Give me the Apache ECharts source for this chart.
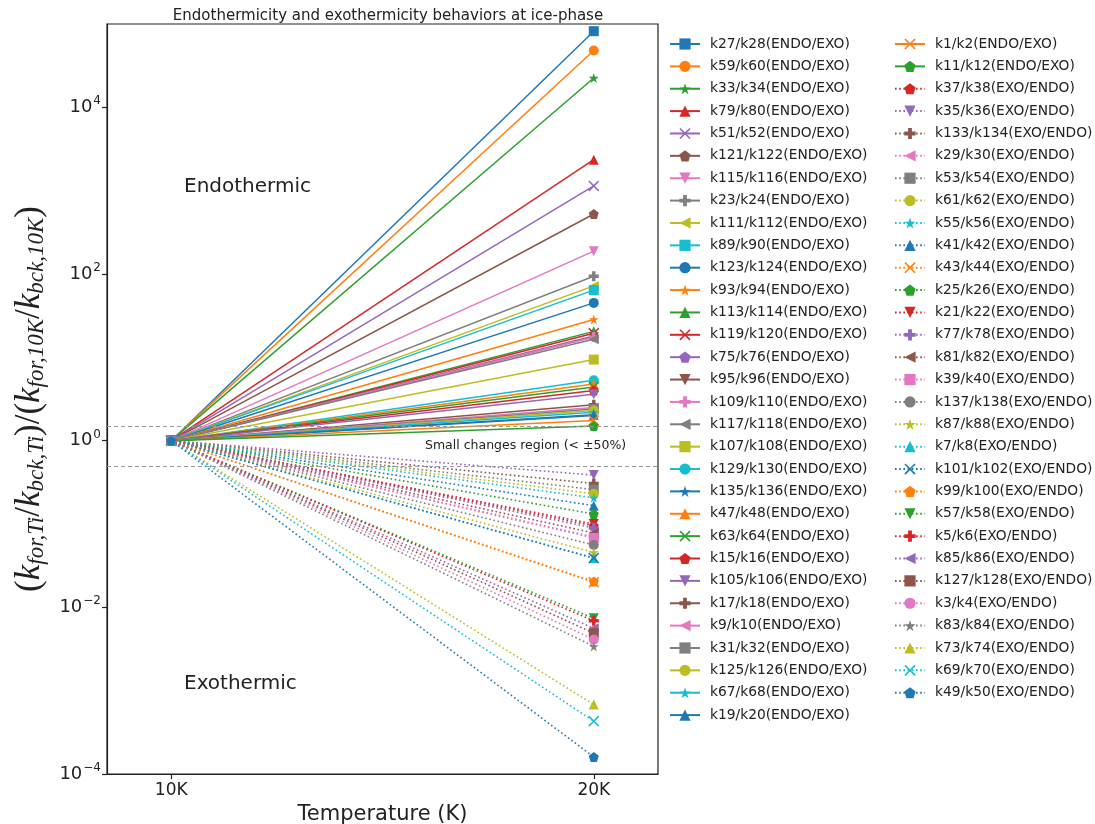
<!DOCTYPE html>
<html>
<head>
<meta charset="utf-8">
<script src="https://cdn.jsdelivr.net/npm/echarts@6/dist/echarts.min.js"></script>
<style>
  html, body { margin: 0; padding: 0; background: #fff; }
  #chart { width: 1095px; height: 824px; }
</style>
</head>
<body>
<div id="chart"></div>
<script>
// Temperatures (K) at which the rate-constant ratios are evaluated
const temperatures = [10, 20];
const xTickLabels = ['10K', '20K'];
const yTickValues = [1e-4, 1e-2, 1, 1e2, 1e4];

// Reaction pairs that become faster going forward when warmed (ENDO/EXO)
const endoNames = [
  'k27/k28(ENDO/EXO)', 'k59/k60(ENDO/EXO)', 'k33/k34(ENDO/EXO)', 'k79/k80(ENDO/EXO)',
  'k51/k52(ENDO/EXO)', 'k121/k122(ENDO/EXO)', 'k115/k116(ENDO/EXO)', 'k23/k24(ENDO/EXO)',
  'k111/k112(ENDO/EXO)', 'k89/k90(ENDO/EXO)', 'k123/k124(ENDO/EXO)', 'k93/k94(ENDO/EXO)',
  'k113/k114(ENDO/EXO)', 'k119/k120(ENDO/EXO)', 'k75/k76(ENDO/EXO)', 'k95/k96(ENDO/EXO)',
  'k109/k110(ENDO/EXO)', 'k117/k118(ENDO/EXO)', 'k107/k108(ENDO/EXO)', 'k129/k130(ENDO/EXO)',
  'k135/k136(ENDO/EXO)', 'k47/k48(ENDO/EXO)', 'k63/k64(ENDO/EXO)', 'k15/k16(ENDO/EXO)',
  'k105/k106(ENDO/EXO)', 'k17/k18(ENDO/EXO)', 'k9/k10(ENDO/EXO)', 'k31/k32(ENDO/EXO)',
  'k125/k126(ENDO/EXO)', 'k67/k68(ENDO/EXO)', 'k19/k20(ENDO/EXO)', 'k1/k2(ENDO/EXO)',
  'k11/k12(ENDO/EXO)'
];
// Ratio at 20K (normalised to 1 at 10K)
const endoValues20K = [
  82000, 48000, 22500, 2350,
  1140, 525, 188, 94,
  72, 64, 45, 28.5,
  20.5, 19.5, 18, 17.5,
  17.5, 16.5, 9.4, 5.3,
  2.0, 4.8, 4.4, 4.0,
  3.6, 2.7, 2.5, 2.4,
  2.3, 2.2, 2.05, 1.75,
  1.5
];

// Reaction pairs that slow down going forward when warmed (EXO/ENDO)
const exoNames = [
  'k37/k38(EXO/ENDO)', 'k35/k36(EXO/ENDO)', 'k133/k134(EXO/ENDO)', 'k29/k30(EXO/ENDO)',
  'k53/k54(EXO/ENDO)', 'k61/k62(EXO/ENDO)', 'k55/k56(EXO/ENDO)', 'k41/k42(EXO/ENDO)',
  'k43/k44(EXO/ENDO)', 'k25/k26(EXO/ENDO)', 'k21/k22(EXO/ENDO)', 'k77/k78(EXO/ENDO)',
  'k81/k82(EXO/ENDO)', 'k39/k40(EXO/ENDO)', 'k137/k138(EXO/ENDO)', 'k87/k88(EXO/ENDO)',
  'k7/k8(EXO/ENDO)', 'k101/k102(EXO/ENDO)', 'k99/k100(EXO/ENDO)', 'k57/k58(EXO/ENDO)',
  'k5/k6(EXO/ENDO)', 'k85/k86(EXO/ENDO)', 'k127/k128(EXO/ENDO)', 'k3/k4(EXO/ENDO)',
  'k83/k84(EXO/ENDO)', 'k73/k74(EXO/ENDO)', 'k69/k70(EXO/ENDO)', 'k49/k50(EXO/ENDO)'
];
const exoValues20K = [
  0.095, 0.386, 0.306, 0.07,
  0.259, 0.23, 0.206, 0.166,
  0.02, 0.132, 0.1, 0.0895,
  0.078, 0.068, 0.056, 0.0456,
  0.039, 0.039, 0.0204, 0.0074,
  0.0069, 0.0056, 0.0049, 0.0041,
  0.0034, 0.00068, 0.00043, 0.00016
];

// Marker shapes (square, circle, star, triangle up, x, pentagon, triangle down, filled plus, triangle left)
const SYM = {
  s: 'rect',
  o: 'circle',
  star: 'path://M5,0 L6.123,3.455 L9.755,3.455 L6.817,5.59 L7.939,9.045 L5,6.91 L2.061,9.045 L3.183,5.59 L0.245,3.455 L3.877,3.455 Z',
  up: 'triangle',
  x: 'path://M0,1 L1,0 L5,4 L9,0 L10,1 L6,5 L10,9 L9,10 L5,6 L1,10 L0,9 L4,5 Z',
  p: 'path://M5,0 L9.755,3.455 L7.939,9.045 L2.061,9.045 L0.245,3.455 Z',
  down: 'path://M0,0 L10,0 L5,9 Z',
  P: 'path://M3.3,0 H6.7 V3.3 H10 V6.7 H6.7 V10 H3.3 V6.7 H0 V3.3 H3.3 Z',
  left: 'path://M9,0 L9,10 L0,5 Z'
};
const markerCycle = ['s', 'o', 'star', 'up', 'x', 'p', 'down', 'P', 'left'];
const tab10 = ['#1f77b4', '#ff7f0e', '#2ca02c', '#d62728', '#9467bd',
               '#8c564b', '#e377c2', '#7f7f7f', '#bcbd22', '#17becf'];

const series = [];
function addSeries(name, v20, idx, markerKey, dotted) {
  const color = tab10[idx % 10];
  series.push({
    name: name,
    type: 'line',
    data: [[temperatures[0], 1], [temperatures[1], v20]],
    symbol: SYM[markerKey],
    symbolSize: markerKey === 'x' ? 11 : 10,
    showSymbol: true,
    color: color,
    itemStyle: { color: color },
    lineStyle: dotted
      ? { color: color, width: 1.6, type: [1.6, 2.6], cap: 'butt' }
      : { color: color, width: 1.5 },
    emphasis: { disabled: true },
    z: 3
  });
}
endoNames.forEach((n, i) => addSeries(n, endoValues20K[i], i, markerCycle[i % 9], false));
exoNames.forEach((n, j) => addSeries(n, exoValues20K[j], endoNames.length + j, markerCycle[(j + 5) % 9], true));

// Dashed guides bounding the "small changes" band (±50%)
series[0].markLine = {
  silent: true,
  symbol: 'none',
  label: { show: false },
  lineStyle: { color: '#999', type: [4, 3], width: 1 },
  data: [{ yAxis: 1.5 }, { yAxis: 0.5 }]
};

const chart = echarts.init(document.getElementById('chart'), null, { renderer: 'canvas' });

const legendCommon = {
  orient: 'vertical',
  itemWidth: 30,
  itemHeight: 14,
  itemGap: 8.37,
  padding: 0,
  textStyle: { fontFamily: 'DejaVu Sans', fontSize: 13.8, color: '#222', padding: [0, 0, 0, 5] },
  selectedMode: false
};

chart.setOption({
  animation: false,
  backgroundColor: '#fff',
  title: {
    text: 'Endothermicity and exothermicity behaviors at ice-phase',
    left: 383,
    textAlign: 'center',
    top: 4,
    textStyle: { fontFamily: 'DejaVu Sans', fontSize: 15, fontWeight: 'normal', color: '#222' }
  },
  grid: {
    left: 107, right: 437, top: 24, bottom: 50,
    outerBoundsMode: 'none',
    containLabel: false,
    show: true, borderColor: '#222', borderWidth: 1.2, backgroundColor: 'transparent'
  },
  legend: [
    Object.assign({}, legendCommon, { left: 669, top: 37, data: endoNames.slice(0, 31) }),
    Object.assign({}, legendCommon, { left: 894, top: 37, data: endoNames.slice(31).concat(exoNames) })
  ],
  xAxis: {
    type: 'value',
    min: 8.48,
    max: 21.52,
    splitLine: { show: false },
    axisLine: { show: true, lineStyle: { color: '#222', width: 1.2 } },
    axisTick: { show: true, length: 5, customValues: temperatures, lineStyle: { color: '#222', width: 1.2 } },
    axisLabel: {
      customValues: temperatures,
      formatter: v => xTickLabels[temperatures.indexOf(Math.round(v))] || '',
      fontFamily: 'DejaVu Sans', fontSize: 17, color: '#222', margin: 8
    },
    name: 'Temperature (K)',
    nameLocation: 'middle',
    nameGap: 23,
    nameTextStyle: { fontFamily: 'DejaVu Sans', fontSize: 21, color: '#222' }
  },
  yAxis: {
    type: 'log',
    logBase: 10,
    min: 1e-4,
    max: 1e5,
    splitLine: { show: false },
    axisLine: { show: true, lineStyle: { color: '#222', width: 1.2 } },
    axisTick: { show: true, length: 5, customValues: yTickValues, lineStyle: { color: '#222', width: 1.2 } },
    axisLabel: {
      customValues: yTickValues,
      formatter: v => {
        const e = Math.round(Math.log10(v));
        return '{b|10}{s|' + (e < 0 ? '\u2212' + (-e) : e) + '}';
      },
      rich: {
        b: { fontFamily: 'DejaVu Sans', fontSize: 18, color: '#222' },
        s: { fontFamily: 'DejaVu Sans', fontSize: 12, color: '#222', padding: [0, 0, 12, 1] }
      },
      margin: 6
    },
    name: '{p|(}{k|k}{sub|for,Ti}{p|/}{k|k}{sub|bck,Ti}{p|)/(}{k|k}{sub|for,10K}{p|/}{k|k}{sub|bck,10K}{p|)}',
    nameLocation: 'middle',
    nameRotate: 90,
    nameGap: 58,
    nameTextStyle: {
      rich: {
        p: { fontFamily: 'Liberation Serif', fontSize: 35, color: '#222' },
        k: { fontFamily: 'Liberation Serif', fontStyle: 'italic', fontSize: 35, color: '#222' },
        sub: { fontFamily: 'Liberation Serif', fontStyle: 'italic', fontSize: 23, color: '#222', padding: [14, 0, 0, 0] }
      }
    }
  },
  graphic: [
    { type: 'text', left: 184, top: 177, style: { text: 'Endothermic', font: '20px "DejaVu Sans"', fill: '#222' } },
    { type: 'text', left: 184, top: 674, style: { text: 'Exothermic', font: '20px "DejaVu Sans"', fill: '#222' } },
    { type: 'text', left: 425, top: 439, style: { text: 'Small changes region (< \u00b150%)', font: '12.5px "DejaVu Sans"', fill: '#222' } }
  ],
  series: series
});
</script>
</body>
</html>
